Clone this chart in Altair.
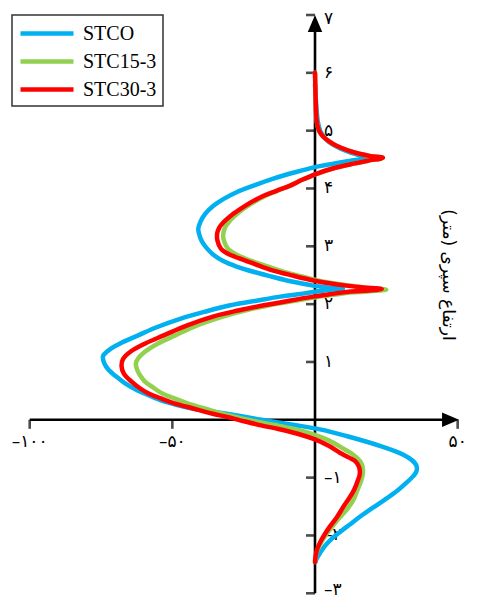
import altair as alt
import pandas as pd

series_names = ["STCO", "STC15-3", "STC30-3"]
series_colors = ["#00B0F0", "#92D050", "#FF0000"]

# STCO (blue): height (m) and value
stco_h = [5.8, 5.4, 5.15, 5.0, 4.9, 4.8, 4.7, 4.62, 4.56, 4.53, 4.48, 4.42, 4.37, 4.28, 4.17,
          4.05, 3.94, 3.82, 3.70, 3.56, 3.42, 3.30, 3.15, 3.05, 2.96, 2.85, 2.74, 2.65, 2.56,
          2.48, 2.41, 2.36, 2.32, 2.29, 2.27, 2.24, 2.21, 2.17, 2.13, 2.06, 1.98, 1.87, 1.75,
          1.60, 1.46, 1.34, 1.22, 1.10, 0.97, 0.86, 0.76, 0.64, 0.53, 0.43, 0.33, 0.25, 0.185,
          0.1, 0.0, -0.09, -0.17, -0.28, -0.45, -0.6, -0.7, -0.8, -0.9, -0.97, -1.1, -1.23,
          -1.38, -1.52, -1.66, -1.81, -1.93, -2.05, -2.18, -2.30, -2.40, -2.46]
stco_v = [0.0, 0.5, 1.0, 1.8, 3.0, 5.0, 8.5, 12.5, 16.5, 18.5, 12.5, 5.5, 0.0, -7.0, -14.6,
          -21.5, -27.3, -32.0, -35.6, -38.5, -40.2, -40.9, -40.2, -39.2, -37.8, -35.5, -32.0, -27.5, -21.6,
          -15.5, -9.8, -5.0, -0.7, 4.5, 9.8, 4.0, -0.7, -6.0, -12.2, -20.5, -29.7, -38.5, -47.0,
          -55.5, -62.0, -67.5, -71.8, -74.3, -73.8, -72.3, -70.0, -66.8, -63.0, -58.5, -53.7, -48.0, -42.0,
          -30.5, -18.8, -7.2, 2.2, 11.0, 22.7, 30.8, 34.0, 35.6, 35.5, 34.5, 31.8, 28.7,
          24.5, 20.3, 16.2, 12.2, 9.0, 6.0, 3.5, 1.8, 0.6, 0.2]

# STC15-3 (green)
stc15_h = [6.0, 5.6, 5.3, 5.1, 4.98, 4.9, 4.82, 4.74, 4.66, 4.6, 4.56, 4.53, 4.48, 4.42, 4.35,
           4.25, 4.15, 4.05, 3.96, 3.87, 3.76, 3.65, 3.53, 3.42, 3.32, 3.19, 3.08, 2.96, 2.87,
           2.79, 2.70, 2.58, 2.49, 2.41, 2.36, 2.32, 2.28, 2.25, 2.22, 2.20, 2.16, 2.12, 2.05,
           1.98, 1.89, 1.79, 1.63, 1.46, 1.32, 1.18, 1.06, 0.97, 0.86, 0.76, 0.66, 0.56, 0.46,
           0.37, 0.28, 0.20, 0.11, 0.04, 0.0, -0.06, -0.12, -0.18, -0.26, -0.36, -0.5, -0.6,
           -0.7, -0.78, -0.86, -0.95, -1.05, -1.2, -1.4, -1.55, -1.7, -1.85, -1.98, -2.12,
           -2.26, -2.36, -2.46]
stc15_v = [0.0, 0.2, 0.4, 0.8, 1.6, 2.8, 4.8, 7.5, 11.5, 15.5, 19.5, 23.8, 18.5, 12.5, 6.5,
           0.3, -4.5, -8.7, -13.2, -17.5, -21.5, -25.0, -28.0, -30.2, -31.6, -32.2, -31.8, -30.5, -28.0,
           -24.5, -19.5, -12.2, -5.5, 1.0, 6.5, 12.5, 18.5, 25.0, 18.5, 12.5, 6.5, 0.5, -8.0,
           -16.0, -24.5, -32.0, -41.5, -49.0, -55.0, -59.5, -62.0, -62.8, -62.3, -61.2, -59.6, -56.8, -53.7,
           -49.3, -44.4, -39.0, -32.8, -27.0, -23.5, -17.5, -11.0, -5.5, 0.0, 5.0, 10.0, 13.3,
           15.5, 16.5, 16.8, 16.7, 16.2, 15.0, 13.3, 11.2, 8.5, 6.0, 4.0, 2.2,
           0.8, 0.3, 0.0]

# STC30-3 (red)
stc30_h = [6.0, 5.6, 5.3, 5.1, 4.98, 4.9, 4.82, 4.74, 4.66, 4.6, 4.56, 4.53, 4.48, 4.42, 4.35,
           4.25, 4.15, 4.05, 3.96, 3.87, 3.76, 3.65, 3.53, 3.42, 3.32, 3.22, 3.1, 2.96, 2.87,
           2.79, 2.70, 2.58, 2.49, 2.41, 2.36, 2.32, 2.29, 2.26, 2.23, 2.21, 2.17, 2.13, 2.06,
           1.98, 1.89, 1.79, 1.63, 1.46, 1.32, 1.18, 1.05, 0.93, 0.80, 0.66, 0.55, 0.46, 0.37,
           0.28, 0.20, 0.11, 0.04, -0.03, -0.10, -0.16, -0.25, -0.34, -0.45, -0.57, -0.65, -0.71,
           -0.80, -0.88, -0.96, -1.05, -1.2, -1.34, -1.5, -1.69, -1.86, -2.03, -2.15, -2.26,
           -2.36, -2.46]
stc30_v = [0.0, 0.2, 0.4, 0.8, 1.6, 2.8, 4.8, 7.5, 11.5, 15.5, 19.5, 23.8, 18.5, 12.5, 6.5,
           0.3, -4.5, -8.7, -13.5, -18.2, -22.5, -26.0, -29.5, -32.0, -33.6, -34.3, -34.2, -33.0, -30.5,
           -26.5, -21.5, -14.6, -7.5, -0.6, 5.0, 11.0, 17.0, 23.4, 17.0, 11.0, 5.0, -0.6, -9.0,
           -18.0, -27.0, -35.5, -45.0, -53.0, -59.5, -64.6, -67.3, -67.8, -67.0, -64.3, -61.5, -58.5, -54.0,
           -49.0, -43.0, -36.2, -30.0, -24.5, -18.5, -12.8, -5.5, 0.0, 4.8, 8.7, 11.8, 14.0,
           15.3, 15.7, 15.6, 15.0, 13.8, 12.2, 10.0, 7.6, 5.0, 2.8, 1.5, 0.6,
           0.2, 0.0]

x_tick_values = [-100, -50, 50]
x_tick_labels = ["\u2013\u06f1\u06f0\u06f0", "\u2013\u06f5\u06f0", "\u06f5\u06f0"]
y_tick_values = [-3, -2, -1, 1, 2, 3, 4, 5, 6, 7]
y_tick_labels = ["\u2013\u06f3", "\u2013\u06f2", "\u2013\u06f1", "\u06f1", "\u06f2", "\u06f3",
                 "\u06f4", "\u06f5", "\u06f6", "\u06f7"]
y_title = "\u0627\u0631\u062a\u0641\u0627\u0639 \u0633\u067e\u0631\u06cc (\u0645\u062a\u0631)\u200f"

rows = []
for name, hs, vs in [(series_names[0], stco_h, stco_v),
                     (series_names[1], stc15_h, stc15_v),
                     (series_names[2], stc30_h, stc30_v)]:
    for i, (h, v) in enumerate(zip(hs, vs)):
        rows.append({"series": name, "h": h, "v": v, "idx": i})
curves = pd.DataFrame(rows)

xt = pd.DataFrame({"v": x_tick_values, "label": x_tick_labels, "h": 0})
yt = pd.DataFrame({"h": y_tick_values, "label": y_tick_labels, "v": 0})

W, H = 477, 592
xscale = alt.Scale(domain=[-107.6, 59.58], nice=False, zero=False)
yscale = alt.Scale(domain=[-3.116, 7.121], nice=False, zero=False)
X = lambda f: alt.X(f, type="quantitative", scale=xscale, axis=None)
Y = lambda f: alt.Y(f, type="quantitative", scale=yscale, axis=None)

axes_df = pd.DataFrame({"x1": [-100, 0], "x2": [47.5, 0], "y1": [0, -3], "y2": [0, 6.85]})
axis_lines = alt.Chart(axes_df).mark_rule(color="black", strokeWidth=2.6).encode(
    x=X("x1"), x2="x2", y=Y("y1"), y2="y2")

arrow_df = pd.DataFrame({"x": [0, 47.5], "y": [6.853, 0], "dir": ["up", "right"]})
arrow_up = alt.Chart(arrow_df).transform_filter(alt.datum.dir == "up").mark_point(
    shape="M0,-1L-0.85,1L0.85,1Z", filled=True, color="black", opacity=1, size=289, strokeWidth=0
).encode(x=X("x"), y=Y("y"))
arrow_right = alt.Chart(arrow_df).transform_filter(alt.datum.dir == "right").mark_point(
    shape="M1,0L-1,-0.85L-1,0.85Z", filled=True, color="black", opacity=1, size=289, strokeWidth=0
).encode(x=X("x"), y=Y("y"))

xticks = alt.Chart(xt).mark_tick(orient="vertical", color="black", size=9, thickness=2.6,
                                 yOffset=4.5).encode(x=X("v"), y=Y("h"))
yticks = alt.Chart(yt).mark_tick(orient="horizontal", color="black", size=9, thickness=2.6,
                                 xOffset=-4.5).encode(x=X("v"), y=Y("h"))

xlabels = alt.Chart(xt).mark_text(font="DejaVu Sans", fontSize=17, color="black", dy=22,
                                  align="center", baseline="middle").encode(
    x=X("v"), y=Y("h"), text="label")

def ylab(filt, dy):
    return alt.Chart(yt).transform_filter(filt).mark_text(
        font="DejaVu Sans", fontSize=17, color="black", dx=9, dy=dy,
        align="left", baseline="middle").encode(x=X("v"), y=Y("h"), text="label")

ylabels_mid = ylab((alt.datum.h > -3) & (alt.datum.h < 7), 0)
ylabels_top = ylab(alt.datum.h == 7, 4)
ylabels_bot = ylab(alt.datum.h == -3, -3)

title_df = pd.DataFrame({"t": [y_title]})
ytitle = alt.Chart(title_df).mark_text(font="DejaVu Sans", fontSize=17, color="black", angle=90,
                                       align="center", baseline="middle").encode(
    x=alt.value(440), y=alt.value(267), text="t")

color = alt.Color("series:N", scale=alt.Scale(domain=series_names, range=series_colors),
                  legend=alt.Legend(title=None, orient="none", legendX=4, legendY=7,
                                    strokeColor="#333333", fillColor="white", padding=6,
                                    symbolType="M-1,0H4.3", symbolStrokeWidth=4.5, symbolSize=400,
                                    labelFont="Liberation Serif", labelFontSize=20,
                                    labelColor="black", labelOffset=40, rowPadding=5,
                                    cornerRadius=0))

def curve(name):
    return alt.Chart(curves).transform_filter(alt.datum.series == name).mark_line(
        strokeWidth=4.5, interpolate="catmull-rom", strokeCap="round", strokeJoin="round"
    ).encode(x=X("v"), y=Y("h"), color=color, order="idx:Q")

chart = alt.layer(
    axis_lines, xticks, yticks, arrow_up, arrow_right, xlabels,
    ylabels_mid, ylabels_top, ylabels_bot, ytitle,
    curve("STCO"), curve("STC15-3"), curve("STC30-3")
).properties(width=W, height=H, autosize=alt.AutoSizeParams(type="none"), padding=0
).configure_view(stroke=None).configure_legend(strokeWidth=1.5)

chart.save("out.html", embed_options={"renderer": "svg", "actions": False})
